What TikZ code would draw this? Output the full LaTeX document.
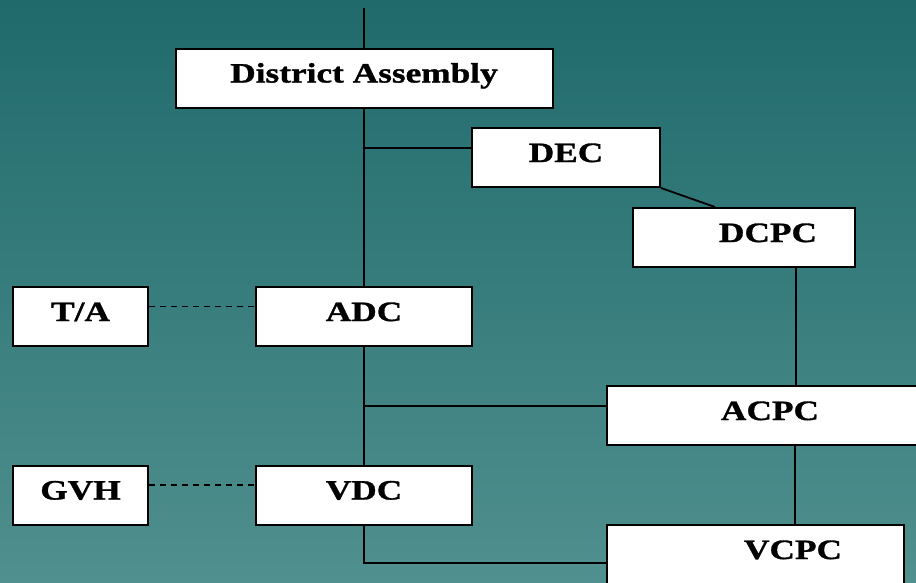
\documentclass[tikz,border=0pt]{standalone}
\usepackage{fontspec}
\newfontfamily\boxfont{Liberation Serif Bold}[FakeStretch=1.26,FakeBold=1.2]
\definecolor{bgtop}{RGB}{32,106,108}
\definecolor{bgbot}{RGB}{80,144,142}
\tikzset{
  box/.style={draw=black, line width=2pt, fill=white, minimum height=59pt, inner sep=0pt,
    text height=18pt, text depth=9pt, font=\boxfont\fontsize{28}{30}\selectfont},
  link/.style={line width=1.8pt},
  tie/.style={line width=1.8pt, dash pattern=on 6pt off 5pt}
}
\begin{document}
\begin{tikzpicture}[x=1pt,y=-1pt]
\shade[top color=bgtop,bottom color=bgbot] (0,0) rectangle (916,582);
\useasboundingbox (0,0) rectangle (916,582);
\clip (0,0) rectangle (916,582);

% boxes
\node[box, minimum width=377pt] (da) at (364,78) {District Assembly};
\node[box, minimum width=188pt] (dec) at (566,157.5) {DEC};
\node[box, minimum width=222pt] (dcpc) at (744,237.5) {\kern48pt DCPC};
\node[box, minimum width=135pt] (ta) at (80.5,316.5) {T/A};
\node[box, minimum width=216pt] (adc) at (364,316.5) {ADC};
\node[box, minimum width=326pt] (acpc) at (770,415.5) {ACPC};
\node[box, minimum width=135pt] (gvh) at (80.5,495) {GVH};
\node[box, minimum width=216pt] (vdc) at (364,495) {VDC};
\node[box, minimum width=297pt] (vcpc) at (755.5,554.5) {\kern75pt VCPC};

% connectors
\coordinate (top) at (364,8);
\coordinate (decin) at ([yshift=9.5pt]dec.west);
\coordinate (acpcin) at ([yshift=9.5pt]acpc.west);
\coordinate (vcpcin) at ([yshift=-8.5pt]vcpc.west);
\coordinate (dcpcout) at ([xshift=52pt]dcpc.south);
\coordinate (acpcout) at ([xshift=25pt]acpc.south);

\draw[link] (top) -- (top |- da.north);
\draw[link] (da.south) -- (da.south |- adc.north);
\draw[link] (decin) -- (decin -| da.south);
\draw[link] (dec.south east) -- ([xshift=-29pt]dcpc.north);
\draw[link] (dcpcout) -- (dcpcout |- acpc.north);
\draw[link] (adc.south) -- (vdc.north);
\draw[link] (acpcin) -- (acpcin -| adc.south);
\draw[link] (acpcout) -- (acpcout |- vcpc.north);
\draw[link] (vdc.south) |- (vcpcin);

\draw[tie] ([yshift=10pt]ta.east) -- ([yshift=10pt]adc.west);
\draw[tie] ([yshift=10pt]gvh.east) -- ([yshift=10pt]vdc.west);
\end{tikzpicture}
\end{document}
